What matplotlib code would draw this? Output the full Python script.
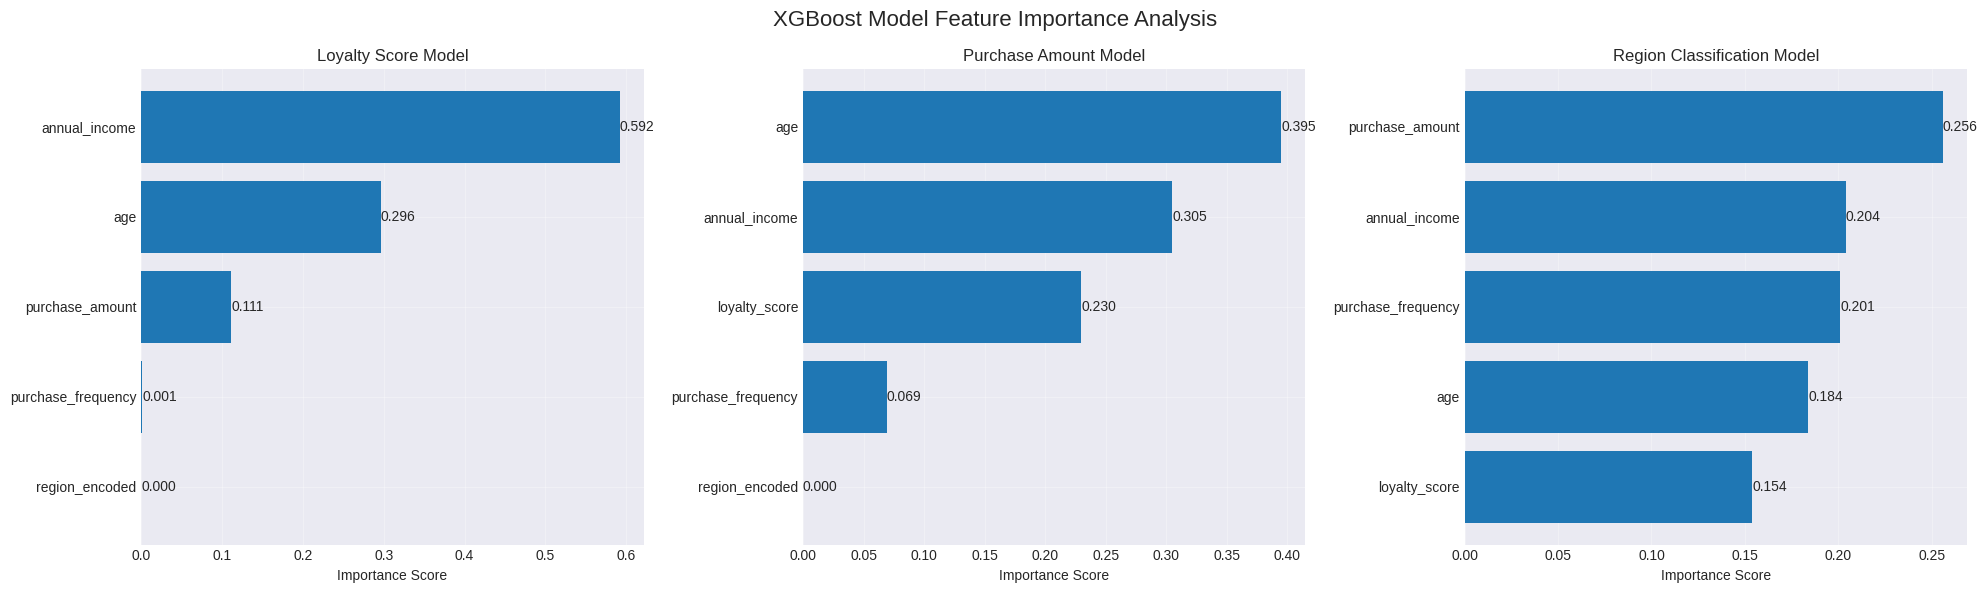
import matplotlib
matplotlib.use("Agg")
import matplotlib.pyplot as plt

plt.style.use("seaborn-v0_8-darkgrid")
plt.rcParams["font.family"] = ["Liberation Sans", "DejaVu Sans"]

loyalty_features = ["annual_income", "age", "purchase_amount", "purchase_frequency", "region_encoded"]
loyalty_scores = [0.592, 0.296, 0.111, 0.001, 0.000]

purchase_features = ["age", "annual_income", "loyalty_score", "purchase_frequency", "region_encoded"]
purchase_scores = [0.395, 0.305, 0.230, 0.069, 0.000]

region_features = ["purchase_amount", "annual_income", "purchase_frequency", "age", "loyalty_score"]
region_scores = [0.256, 0.204, 0.201, 0.184, 0.154]

panels = [
    ("Loyalty Score Model", loyalty_features, loyalty_scores),
    ("Purchase Amount Model", purchase_features, purchase_scores),
    ("Region Classification Model", region_features, region_scores),
]

fig, axes = plt.subplots(1, 3, figsize=(20, 6), dpi=100)
for ax, (title, features, scores) in zip(axes, panels):
    bars = ax.barh(features, scores, color="#1f77b4")
    ax.invert_yaxis()
    for bar, score in zip(bars, scores):
        ax.text(bar.get_width(), bar.get_y() + bar.get_height() / 2, f"{score:.3f}",
                va="center", ha="left", fontsize=10)
    ax.set_title(title, fontsize=12)
    ax.set_xlabel("Importance Score")
    ax.tick_params(labelsize=10)
    ax.grid(True, alpha=0.3)

fig.suptitle("XGBoost Model Feature Importance Analysis", fontsize=16)
fig.tight_layout()
fig.savefig("out.png", dpi=100, bbox_inches="tight")
